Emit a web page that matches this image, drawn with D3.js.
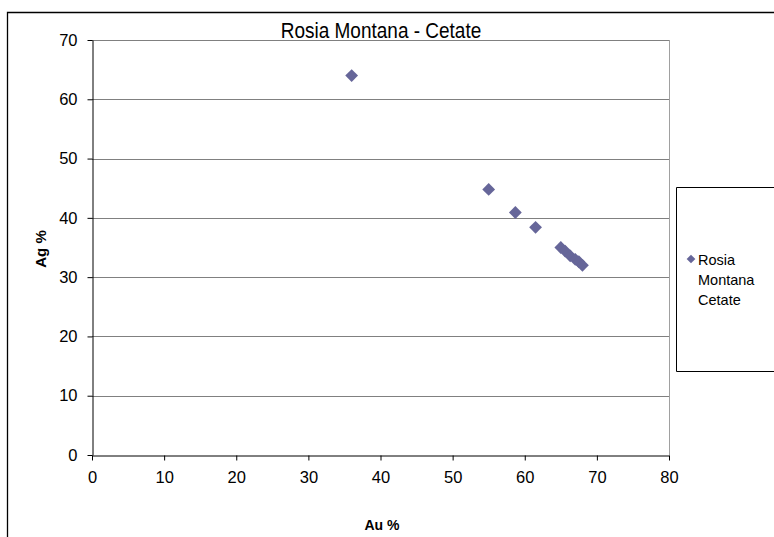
<!DOCTYPE html>
<html>
<head>
<meta charset="utf-8">
<script src="https://cdn.jsdelivr.net/npm/d3@7"></script>
<style>
  html, body { margin: 0; padding: 0; background: #fff; }
  svg { display: block; font-family: "Liberation Sans", Arial, sans-serif; }
</style>
</head>
<body>
<svg id="chart" width="774" height="537"></svg>
<script>
// Au / Ag composition of gold samples, Rosia Montana - Cetate
const seriesName = "Rosia Montana Cetate";
const auValues = [36.0, 55.0, 58.7, 61.5, 65.0, 65.6, 66.3, 67.0, 67.5, 68.0];
const agValues = [64.0, 44.8, 40.9, 38.4, 35.0, 34.4, 33.6, 33.0, 32.6, 32.0];
const xTicks = [0, 10, 20, 30, 40, 50, 60, 70, 80];
const yTicks = [0, 10, 20, 30, 40, 50, 60, 70];

const points = auValues.map((au, i) => ({ au, ag: agValues[i] }));

const svg = d3.select("#chart");
const W = 774, H = 537;
const plot = { left: 92, right: 669, top: 40, bottom: 455 };
const markerColor = "#666699";
const font = "'Liberation Sans', Arial, sans-serif";

// outer chart frame
svg.append("path")
  .attr("d", `M7.5,${H} V12.5 H${W}`)
  .attr("fill", "none").attr("stroke", "#000").attr("stroke-width", 1.3);

const x = d3.scaleLinear().domain([0, 80]).range([plot.left, plot.right]);
const y = d3.scaleLinear().domain([0, 70]).range([plot.bottom, plot.top]);

// horizontal gridlines
svg.append("g")
  .selectAll("line")
  .data(yTicks.filter(t => t > 0))
  .join("line")
  .attr("x1", plot.left).attr("x2", plot.right)
  .attr("y1", d => Math.round(y(d)) + 0.5).attr("y2", d => Math.round(y(d)) + 0.5)
  .attr("stroke", "#808080").attr("stroke-width", 1);

// plot-area border on the right
svg.append("line")
  .attr("x1", plot.right + 0.5).attr("x2", plot.right + 0.5)
  .attr("y1", plot.top).attr("y2", plot.bottom)
  .attr("stroke", "#a0a0a0").attr("stroke-width", 1);

// axes
const xAxis = svg.append("g")
  .attr("transform", `translate(0,${Math.round(plot.bottom) + 0.5})`)
  .call(d3.axisBottom(x).tickValues(xTicks).tickSize(5).tickPadding(11).tickSizeOuter(0));
const yAxis = svg.append("g")
  .attr("transform", `translate(${plot.left + 0.5},0)`)
  .call(d3.axisLeft(y).tickValues(yTicks).tickSize(5).tickPadding(10).tickSizeOuter(0));

[xAxis, yAxis].forEach(g => {
  g.select(".domain").attr("stroke", "#000");
  g.selectAll(".tick line").attr("stroke", "#000");
  g.selectAll(".tick text")
    .attr("fill", "#000")
    .style("font-size", "16.5px")
    .style("font-family", font);
});

// diamond markers
svg.append("g")
  .selectAll("path")
  .data(points)
  .join("path")
  .attr("transform", d => `translate(${x(d.au)},${y(d.ag)}) rotate(45)`)
  .attr("d", d3.symbol().type(d3.symbolSquare).size(82)())
  .attr("fill", markerColor);

// title
svg.append("text")
  .attr("transform", "translate(381,38) scale(1,1.12)")
  .attr("text-anchor", "middle")
  .style("font-size", "19px")
  .text("Rosia Montana - Cetate");

// axis titles
svg.append("text")
  .attr("x", 382).attr("y", 530)
  .attr("text-anchor", "middle")
  .style("font-size", "14px").style("font-weight", "bold")
  .text("Au %");

svg.append("text")
  .attr("transform", "translate(46,249) rotate(-90)")
  .attr("text-anchor", "middle")
  .style("font-size", "15px").style("font-weight", "bold")
  .text("Ag %");

// legend
const legend = svg.append("g");
legend.append("path")
  .attr("d", `M${W},187.5 H676.5 V371.5 H${W}`)
  .attr("fill", "#fff").attr("stroke", "#000").attr("stroke-width", 1);
legend.append("path")
  .attr("transform", "translate(691,259) rotate(45)")
  .attr("d", d3.symbol().type(d3.symbolSquare).size(38)())
  .attr("fill", markerColor);
const words = ["Rosia", "Montana", "Cetate"];
legend.append("text")
  .style("font-size", "14.5px")
  .selectAll("tspan")
  .data(words)
  .join("tspan")
  .attr("x", 698)
  .attr("y", (d, i) => 264.5 + i * 20)
  .text(d => d);
</script>
</body>
</html>
